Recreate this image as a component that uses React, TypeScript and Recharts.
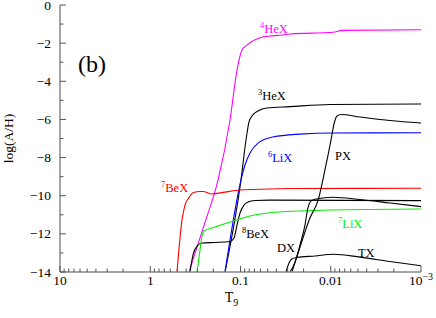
import React from 'react';
import { LineChart, Line, XAxis, YAxis, ReferenceDot, Label } from 'recharts';

const W = 436;
const H = 318;

// T9 axis (log, reversed)
const T9_MAJOR = [10, 1, 0.1, 0.01, 0.001];
const T9_MAJOR_LABELS = ['10', '1', '0.1', '0.01', '10'];
const T9_MINOR_STEPS = [2, 3, 4, 5, 6, 7, 8, 9];
const Y_TICKS = [0, -1, -2, -3, -4, -5, -6, -7, -8, -9, -10, -11, -12, -13, -14];
const Y_LABELED = [0, -2, -4, -6, -8, -10, -12, -14];

// [T9, log(A/H)]
const he4 = [
  [0.372, -14], [0.2473, -11.4], [0.1775, -9.18], [0.1307, -6.03], [0.1093, -3.41],
  [0.0963, -2.36], [0.0847, -2.1], [0.0563, -1.68], [0.0338, -1.57], [0.0283, -1.52],
  [0.00944, -1.43], [0.00732, -1.33], [0.001, -1.3],
];
const he3 = [
  [0.1485, -14], [0.0988, -9.18], [0.0869, -7.08], [0.0805, -6.13], [0.0746, -5.82],
  [0.064, -5.56], [0.0509, -5.4], [0.0283, -5.33], [0.0102, -5.22], [0.001, -5.19],
];
const li6 = [
  [0.1485, -14], [0.0988, -9.18], [0.0891, -8.39], [0.0785, -7.76], [0.064, -7.24],
  [0.0436, -6.92], [0.0219, -6.77], [0.00944, -6.71], [0.001, -6.7],
];
const be7 = [
  [0.5053, -14], [0.4446, -11.27], [0.4121, -10.49], [0.372, -10.1], [0.3359, -9.85],
  [0.2811, -9.78], [0.2603, -9.78], [0.2069, -9.91], [0.1485, -9.81], [0.1013, -9.7],
  [0.0471, -9.65], [0.0283, -9.62], [0.001, -9.61],
];
const be8 = [
  [0.3627, -14], [0.3359, -13.1], [0.3034, -12.64], [0.2671, -12.48], [0.1916, -12.45],
  [0.1307, -12.4], [0.118, -12.22], [0.1093, -11.54], [0.1013, -10.91], [0.0915, -10.49],
  [0.0826, -10.33], [0.0691, -10.25], [0.0471, -10.23], [0.001, -10.26],
];
const li7 = [
  [0.3034, -14], [0.2811, -12.85], [0.2671, -12.11], [0.2537, -11.85], [0.1916, -11.64],
  [0.1307, -11.38], [0.0785, -11.06], [0.0471, -10.89], [0.0219, -10.8], [0.0102, -10.75],
  [0.001, -10.7],
];
const px = [
  [0.0269, -14], [0.0219, -12.69], [0.017, -11.17], [0.0138, -10.23], [0.0116, -8.65],
  [0.00994, -7.08], [0.0092, -6.24], [0.00852, -5.82], [0.0077, -5.74], [0.00474, -5.87],
  [0.00221, -6.06], [0.001, -6.19],
];
const dx = [
  [0.0283, -14], [0.0249, -13.48], [0.0219, -12.58], [0.0193, -11.54], [0.0179, -10.64],
  [0.0166, -10.28], [0.0146, -10.17], [0.00944, -10.08], [0.00474, -10.2], [0.00221, -10.38],
  [0.001, -10.57],
];
const tx = [
  [0.0313, -14], [0.029, -13.53], [0.0269, -13.32], [0.0237, -13.24], [0.0149, -13.16],
  [0.00944, -13.07], [0.00474, -13.22], [0.00221, -13.45], [0.001, -13.67],
];

const MAGENTA = '#ff00ff';
const BLUE = '#0000ff';
const RED = '#ff0000';
const GREEN = '#00ee00';
const BLACK = '#000000';

const SERIES = [
  { name: 'he4', pts: he4, color: MAGENTA },
  { name: 'he3', pts: he3, color: BLACK },
  { name: 'li6', pts: li6, color: BLUE },
  { name: 'be7', pts: be7, color: RED },
  { name: 'be8', pts: be8, color: BLACK },
  { name: 'li7', pts: li7, color: GREEN },
  { name: 'px', pts: px, color: BLACK },
  { name: 'dx', pts: dx, color: BLACK },
  { name: 'tx', pts: tx, color: BLACK },
];

// curve labels, anchored in data space (left end, baseline)
const LABELS = [
  { t: 0.0608, y: -1.45, sup: '4', text: 'HeX', color: MAGENTA },
  { t: 0.064, y: -4.98, sup: '3', text: 'HeX', color: BLACK },
  { t: 0.0496, y: -8.23, sup: '6', text: 'LiX', color: BLUE },
  { t: 0.76, y: -9.81, sup: '7', text: 'BeX', color: RED },
  { t: 0.0963, y: -12.22, sup: '8', text: 'BeX', color: BLACK },
  { t: 0.00831, y: -11.69, sup: '7', text: 'LiX', color: GREEN },
  { t: 0.00897, y: -8.13, sup: '', text: 'PX', color: BLACK },
  { t: 0.0394, y: -12.95, sup: '', text: 'DX', color: BLACK },
  { t: 0.00499, y: -13.22, sup: '', text: 'TX', color: BLACK },
];

const FONT = "'Liberation Serif', 'DejaVu Serif', serif";
const TXT = { fontFamily: FONT };
const FRAME = { stroke: '#888', strokeWidth: 1.5 };
const TICK = '#555';

const xTicks = [
  ...T9_MAJOR,
  ...T9_MAJOR.slice(1).flatMap((d) => T9_MINOR_STEPS.map((s) => s * d)),
];

const majorIndex = (v: number) => T9_MAJOR.findIndex((m) => Math.abs(m - v) / m < 1e-6);

function BottomTick(props: any) {
  const { x, y, payload } = props;
  const i = majorIndex(payload.value);
  const len = i >= 0 ? 6 : 3.5;
  return (
    <g>
      <line x1={x} x2={x} y1={y} y2={y - len} stroke={TICK} />
      {i >= 0 && (
        <text x={x} y={y + 13} textAnchor="middle" style={TXT} fontSize={13.5} fill="#000">
          {T9_MAJOR_LABELS[i]}
          {i === 4 && <tspan dy={-5} fontSize={10}>−3</tspan>}
        </text>
      )}
    </g>
  );
}

function TopTick(props: any) {
  const { x, y, payload } = props;
  const len = majorIndex(payload.value) >= 0 ? 6 : 3.5;
  return <line x1={x} x2={x} y1={y} y2={y + len} stroke={TICK} />;
}

const fmtY = (v: number) => (v < 0 ? '−' + Math.abs(v) : String(v));

function LeftTick(props: any) {
  const { x, y, payload } = props;
  const major = Y_LABELED.includes(payload.value);
  return (
    <g>
      <line x1={x} x2={x + (major ? 6 : 3.5)} y1={y} y2={y} stroke={TICK} />
      {major && (
        <text x={x - 9} y={y + 4.5} textAnchor="end" style={TXT} fontSize={13.5} fill="#000">
          {fmtY(payload.value)}
        </text>
      )}
    </g>
  );
}

function RightTick(props: any) {
  const { x, y, payload } = props;
  const len = Y_LABELED.includes(payload.value) ? 6 : 3.5;
  return <line x1={x} x2={x - len} y1={y} y2={y} stroke={TICK} />;
}

function XTitle(props: any) {
  const vb = props.viewBox;
  return (
    <text x={vb.x + vb.width / 2 - 9} y={vb.y + 30} textAnchor="middle" style={TXT} fontSize={14} fill="#000">
      T<tspan dy={4} fontSize={10}>9</tspan>
    </text>
  );
}

function YTitle(props: any) {
  const vb = props.viewBox;
  const cx = vb.x + 13;
  const cy = vb.y + vb.height / 2;
  return (
    <text x={cx} y={cy} transform={`rotate(-90 ${cx} ${cy})`} textAnchor="middle" style={TXT} fontSize={13.5} fill="#000">
      log(A/H)
    </text>
  );
}

const toPts = (arr: number[][]) => arr.map(([t, y]) => ({ t, y }));

export default function App() {
  return (
    <div style={{ position: 'fixed', left: 0, top: 0, width: W, height: H, background: '#fff' }}>
      <LineChart width={W} height={H} margin={{ top: 5, right: 15, bottom: 0, left: 0 }}>
        <XAxis
          dataKey="t" type="number" scale="log" domain={[0.001, 10]} reversed allowDataOverflow
          ticks={xTicks} interval={0} tick={<BottomTick />} tickLine={false} tickSize={0} tickMargin={0}
          axisLine={FRAME} height={46}
          label={<Label content={XTitle} />}
        />
        <XAxis
          xAxisId="top" orientation="top" dataKey="t" type="number" scale="log" domain={[0.001, 10]}
          reversed allowDataOverflow ticks={xTicks} interval={0} tick={<TopTick />} tickLine={false}
          tickSize={0} tickMargin={0} axisLine={FRAME} height={0}
        />
        <YAxis
          type="number" domain={[-14, 0]} allowDataOverflow ticks={Y_TICKS} interval={0}
          tick={<LeftTick />} tickLine={false} tickSize={0} tickMargin={0} axisLine={FRAME} width={60}
          label={<Label content={YTitle} />}
        />
        <YAxis
          yAxisId="right" orientation="right" type="number" domain={[-14, 0]} allowDataOverflow
          ticks={Y_TICKS} interval={0} tick={<RightTick />} tickLine={false} tickSize={0} tickMargin={0}
          axisLine={FRAME} width={0}
        />
        {SERIES.map((s) => (
          <Line
            key={s.name}
            data={toPts(s.pts)}
            dataKey="y"
            type="monotone"
            stroke={s.color}
            strokeWidth={1.1}
            dot={false}
            activeDot={false}
            isAnimationActive={false}
          />
        ))}
        {LABELS.map((l, i) => (
          <ReferenceDot
            key={i}
            x={l.t}
            y={l.y}
            r={0}
            ifOverflow="visible"
            shape={(p: any) => (
              <text x={p.cx} y={p.cy} style={TXT} fontSize={12.5} fill={l.color}>
                {l.sup && <tspan dy={-5} fontSize={8.5}>{l.sup}</tspan>}
                <tspan dy={l.sup ? 5 : 0}>{l.text}</tspan>
              </text>
            )}
          />
        ))}
        <ReferenceDot
          x={6.32}
          y={-3.5}
          r={0}
          ifOverflow="visible"
          shape={(p: any) => (
            <text x={p.cx} y={p.cy} style={TXT} fontSize={24} fill="#000">(b)</text>
          )}
        />
      </LineChart>
    </div>
  );
}
